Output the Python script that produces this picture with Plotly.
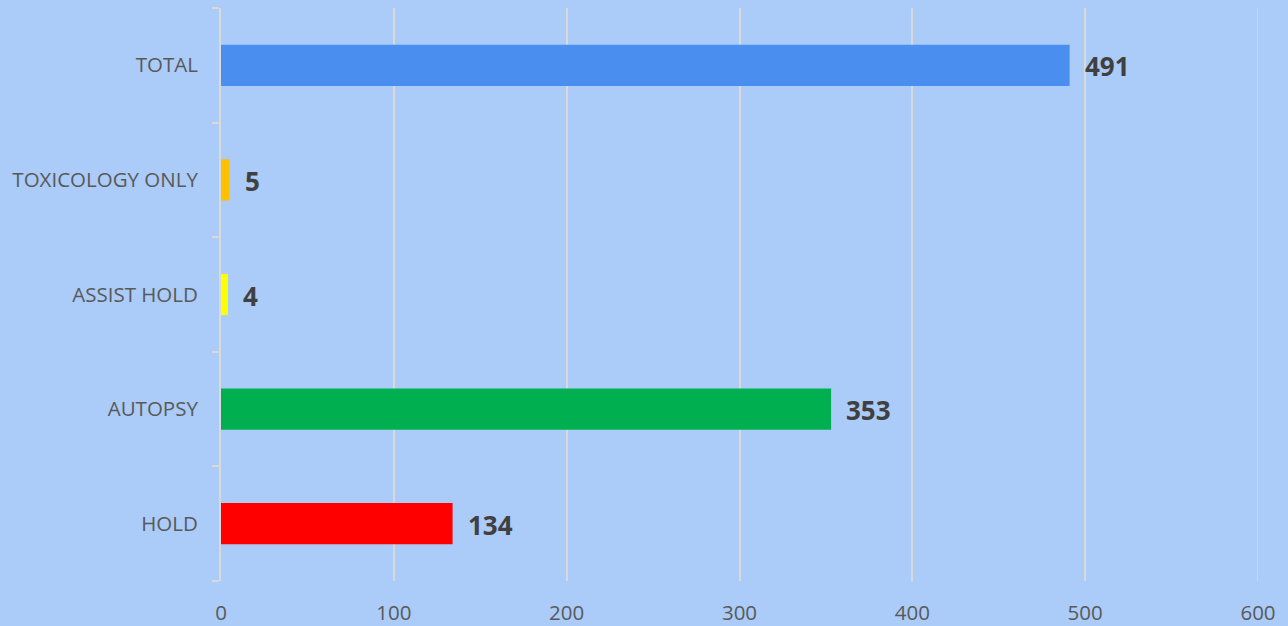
import plotly.graph_objects as go

categories = ["HOLD", "AUTOPSY", "ASSIST HOLD", "TOXICOLOGY ONLY", "TOTAL"]
counts = [134, 353, 4, 5, 491]
bar_colors = ["#ff0000", "#00b050", "#ffff00", "#ffc000", "#4a8ef0"]
x_ticks = [0, 100, 200, 300, 400, 500, 600]

FONT = "Open Sans, Liberation Sans, sans-serif"

fig = go.Figure()
fig.add_trace(go.Bar(
    x=counts,
    y=categories,
    orientation="h",
    width=0.36,
    marker=dict(color=bar_colors, line=dict(width=0)),
    hoverinfo="x+y",
))

for cat, val in zip(categories, counts):
    fig.add_annotation(
        x=val, y=cat, text=f"<b>{val}</b>", showarrow=False,
        xanchor="left", xshift=13, yshift=-1,
        font=dict(family=FONT, size=26, color="#404040"),
    )

# gridline at the right edge of the value range
fig.add_shape(
    type="line", xref="x", yref="paper",
    x0=x_ticks[-1], x1=x_ticks[-1], y0=0, y1=1,
    line=dict(color="#d9d9d9", width=1.5), layer="below",
)

fig.update_layout(
    width=1288, height=626,
    margin=dict(l=221, r=30, t=8, b=45),
    paper_bgcolor="#abcbf8",
    plot_bgcolor="#abcbf8",
    showlegend=False,
    font=dict(family=FONT, color="#595959"),
)
fig.update_xaxes(
    range=[0, 600],
    tickvals=x_ticks,
    showgrid=True, gridcolor="#d9d9d9", gridwidth=1.5,
    zeroline=False, showline=False,
    ticks="", ticklabelstandoff=17, automargin=False,
    tickfont=dict(size=20.5, color="#595959"),
)
fig.update_yaxes(
    categoryorder="array", categoryarray=categories,
    showline=True, linecolor="#d9d9d9", linewidth=2,
    ticks="outside", tickson="boundaries", ticklen=7, tickcolor="#d9d9d9", tickwidth=2,
    ticklabelstandoff=17, automargin=False,
    showgrid=False, zeroline=False,
    tickfont=dict(size=20.5, color="#595959"),
)

fig.write_html("out.html")
